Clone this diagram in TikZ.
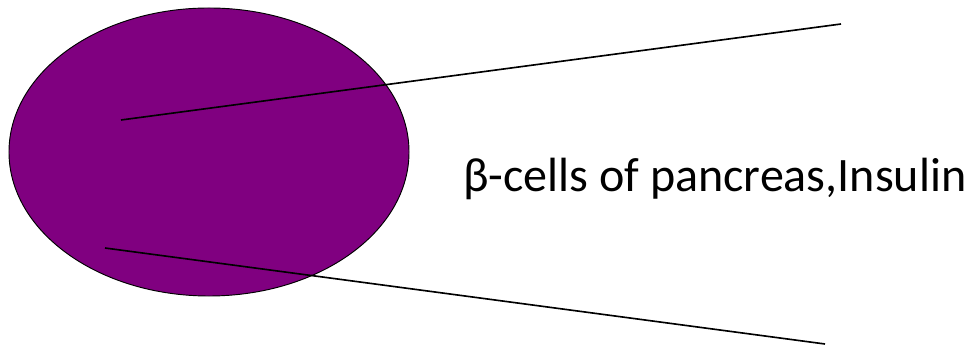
\documentclass[tikz,border=0pt]{standalone}
\usepackage{fontspec}
\setmainfont{Carlito}
\usetikzlibrary{shapes.geometric,positioning}
\definecolor{cellpurple}{RGB}{128,0,128}

\begin{document}
\begin{tikzpicture}[
  x=0.03cm, y=-0.03cm,
  cell/.style={ellipse, draw, fill=cellpurple, line width=0.8pt, minimum width=12cm, minimum height=8.64cm, inner sep=0pt},
  pointer/.style={draw, line width=1.4pt},
  label text/.style={font=\fontsize{41}{48}\selectfont, inner sep=0pt, anchor=base west}
]
\useasboundingbox (0,0) rectangle (968,349);
\node[cell] (islet) at (209,152) {};
\coordinate (upin) at (121,120);
\coordinate (upout) at (841,24);
\coordinate (lowin) at (105,248);
\coordinate (lowout) at (825,344);
\draw[pointer] (upin) -- (upout);
\draw[pointer] (lowin) -- (lowout);
\node[label text] (name) at (463,192) {β-cells of pancreas,Insulin};
\end{tikzpicture}
\end{document}
